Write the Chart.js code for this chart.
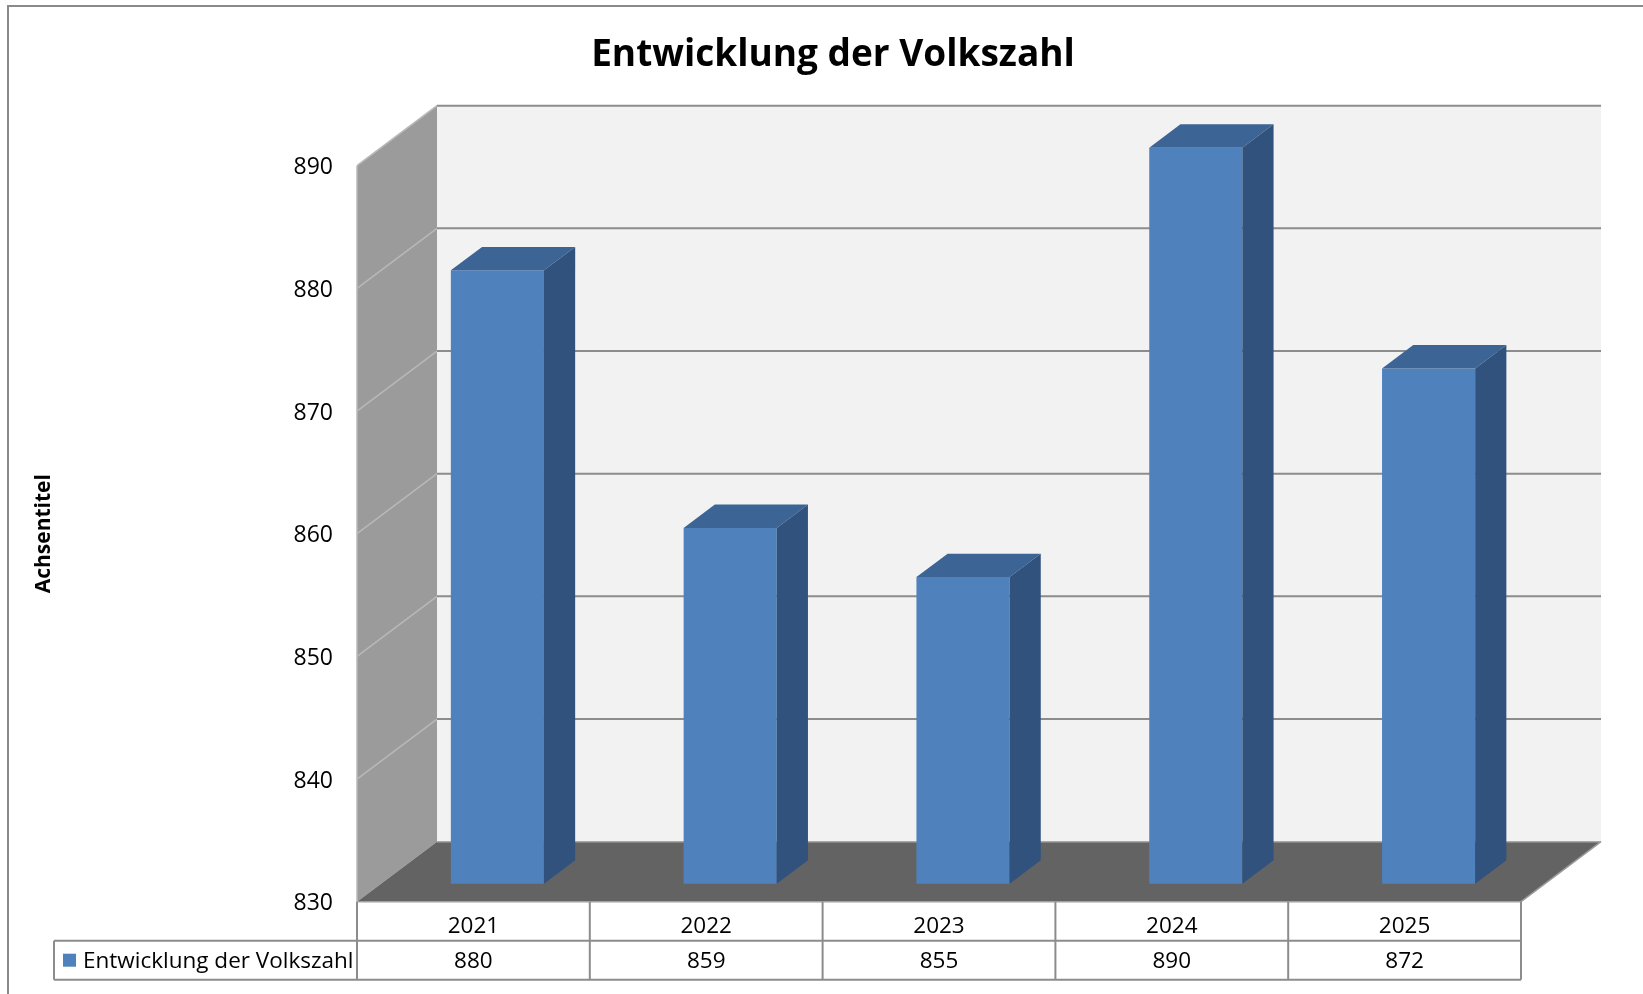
<!DOCTYPE html>
<html lang="de">
<head>
<meta charset="utf-8">
<title>Entwicklung der Volkszahl</title>
<script src="https://cdn.jsdelivr.net/npm/chart.js@4.4.1/dist/chart.umd.min.js"></script>
<style>
  html, body { margin: 0; padding: 0; background: #fff; }
  #wrap { width: 1643px; height: 994px; }
</style>
</head>
<body>
<div id="wrap"><canvas id="chart" width="1643" height="994"></canvas></div>
<script>
// --- Data ---
const categories = ['2021', '2022', '2023', '2024', '2025'];
const populationValues = [880, 859, 855, 890, 872];
const yTickValues = [830, 840, 850, 860, 870, 880, 890];
const seriesLabel = 'Entwicklung der Volkszahl';
const chartTitle = 'Entwicklung der Volkszahl';
const yAxisTitle = 'Achsentitel';

// --- 3D look (offsets of the back plane against the front plane) ---
const DX = 80, DY = -60;
const BAR_FRONT = 0.3, BAR_DEPTH = 0.39;
const FONT = '"Open Sans", "Noto Sans", sans-serif';
const ROW_H = 39;
const LEGEND_LEFT = 54;

function fillPoly(ctx, pts, color) {
    ctx.beginPath();
    ctx.moveTo(pts[0][0], pts[0][1]);
    for (let i = 1; i < pts.length; i++) ctx.lineTo(pts[i][0], pts[i][1]);
    ctx.closePath();
    ctx.fillStyle = color;
    ctx.fill();
}

function line(ctx, x0, y0, x1, y1, color, w) {
    ctx.beginPath();
    ctx.moveTo(x0, y0);
    ctx.lineTo(x1, y1);
    ctx.strokeStyle = color;
    ctx.lineWidth = w;
    ctx.stroke();
}

const box3d = {
    id: 'box3d',
    beforeDatasetsDraw(chart) {
        const { ctx, chartArea: { left, right, top, bottom }, scales: { y } } = chart;
        ctx.save();
        // back wall, side wall, floor
        ctx.fillStyle = '#f2f2f2';
        ctx.fillRect(left + DX, top + DY, right - left, bottom - top);
        fillPoly(ctx, [[left, top], [left + DX, top + DY], [left + DX, bottom + DY], [left, bottom]], '#9b9b9b');
        fillPoly(ctx, [[left, bottom], [left + DX, bottom + DY], [right + DX, bottom + DY], [right, bottom]], '#636363');

        // grid lines on the walls
        y.ticks.forEach((t, i) => {
            const py = y.getPixelForValue(t.value);
            if (i > 0) {
                line(ctx, left, py, left + DX, py + DY, '#b8b8b8', 1.5);
                line(ctx, left + DX, py + DY, right + DX, py + DY, '#8c8c8c', 2);
            } else {
                line(ctx, left + DX, py + DY, right + DX, py + DY, '#a8a8a8', 1.5);
            }
        });
        // edges
        line(ctx, left, top, left, bottom, '#b8b8b8', 1.5);
        line(ctx, right, bottom, right + DX, bottom + DY, '#9a9a9a', 1.5);
        ctx.restore();
    },
    beforeDatasetDraw(chart) {
        chart.ctx.save();
        chart.ctx.translate(DX * BAR_FRONT, DY * BAR_FRONT);
    },
    afterDatasetDraw(chart, args) {
        const ctx = chart.ctx;
        ctx.restore();
        const ox = DX * BAR_FRONT, oy = DY * BAR_FRONT;
        const bx = DX * BAR_DEPTH, by = DY * BAR_DEPTH;
        ctx.save();
        args.meta.data.forEach(bar => {
            const { x, y, base, width } = bar.getProps(['x', 'y', 'base', 'width'], true);
            const x0 = x - width / 2 + ox, x1 = x + width / 2 + ox;
            const yt = y + oy, yb = base + oy;
            fillPoly(ctx, [[x0, yt], [x0 + bx, yt + by], [x1 + bx, yt + by], [x1, yt]], '#3c6494');
            fillPoly(ctx, [[x1, yt], [x1 + bx, yt + by], [x1 + bx, yb + by], [x1, yb]], '#30527c');
        });
        ctx.restore();
    },
    afterDraw(chart) {
        const { ctx, chartArea: { left, right, bottom }, scales: { x } } = chart;
        const r1 = bottom, r2 = bottom + ROW_H, r3 = bottom + 2 * ROW_H;
        ctx.save();

        // outer frame
        ctx.beginPath();
        ctx.moveTo(chart.width + 5, 6);
        ctx.lineTo(8, 6);
        ctx.lineTo(8, chart.height + 5);
        ctx.strokeStyle = '#8a8a8a';
        ctx.lineWidth = 2;
        ctx.stroke();

        // title
        ctx.fillStyle = '#000';
        ctx.font = 'bold 37px ' + FONT;
        ctx.textAlign = 'center';
        ctx.textBaseline = 'middle';
        ctx.fillText(chartTitle, 833, 55);

        // data table
        const gc = '#8c8c8c';
        line(ctx, left, r1, right, r1, '#a0a0a0', 1.5);
        line(ctx, LEGEND_LEFT, r2, right, r2, gc, 2);
        line(ctx, LEGEND_LEFT, r3, right, r3, gc, 2);
        line(ctx, LEGEND_LEFT, r2, LEGEND_LEFT, r3, gc, 2);
        const step = (right - left) / categories.length;
        for (let i = 0; i <= categories.length; i++) {
            const cx = left + i * step;
            line(ctx, cx, r1, cx, r3, gc, 2);
        }
        ctx.font = '22.5px ' + FONT;
        categories.forEach((c, i) => {
            const cx = x.getPixelForValue(i);
            ctx.fillText(c, cx, (r1 + r2) / 2 + 5);
            ctx.fillText(String(populationValues[i]), cx, (r2 + r3) / 2 + 1);
        });
        // legend key
        ctx.fillStyle = '#4f81bd';
        ctx.fillRect(63, (r2 + r3) / 2 - 6.5, 13, 13);
        ctx.fillStyle = '#000';
        ctx.textAlign = 'left';
        ctx.fillText(seriesLabel, 83, (r2 + r3) / 2 + 1);
        ctx.restore();
    }
};

new Chart(document.getElementById('chart'), {
    type: 'bar',
    data: {
        labels: categories,
        datasets: [{
            label: seriesLabel,
            data: populationValues,
            base: yTickValues[0],
            backgroundColor: '#4f81bd',
            borderWidth: 0,
            barPercentage: 0.4,
            categoryPercentage: 1,
            clip: false
        }]
    },
    options: {
        responsive: false,
        animation: false,
        events: [],
        layout: { padding: { top: 165.7, right: 122, bottom: 92.3, left: 0 } },
        plugins: {
            legend: { display: false },
            title: { display: false },
            tooltip: { enabled: false }
        },
        scales: {
            x: { display: false },
            y: {
                min: yTickValues[0],
                max: yTickValues[yTickValues.length - 1],
                afterBuildTicks: scale => { scale.ticks = yTickValues.map(v => ({ value: v })); },
                afterFit: scale => { scale.width = 357; },
                grid: { display: false, drawTicks: false },
                border: { display: false },
                ticks: { color: '#000', padding: 24, labelOffset: 2, font: { family: FONT, size: 23 } },
                title: {
                    display: true,
                    text: yAxisTitle,
                    color: '#000',
                    font: { family: FONT, size: 21, weight: 'bold' },
                    padding: { top: 31.4, bottom: 0 }
                }
            }
        }
    },
    plugins: [box3d]
});
</script>
</body>
</html>
